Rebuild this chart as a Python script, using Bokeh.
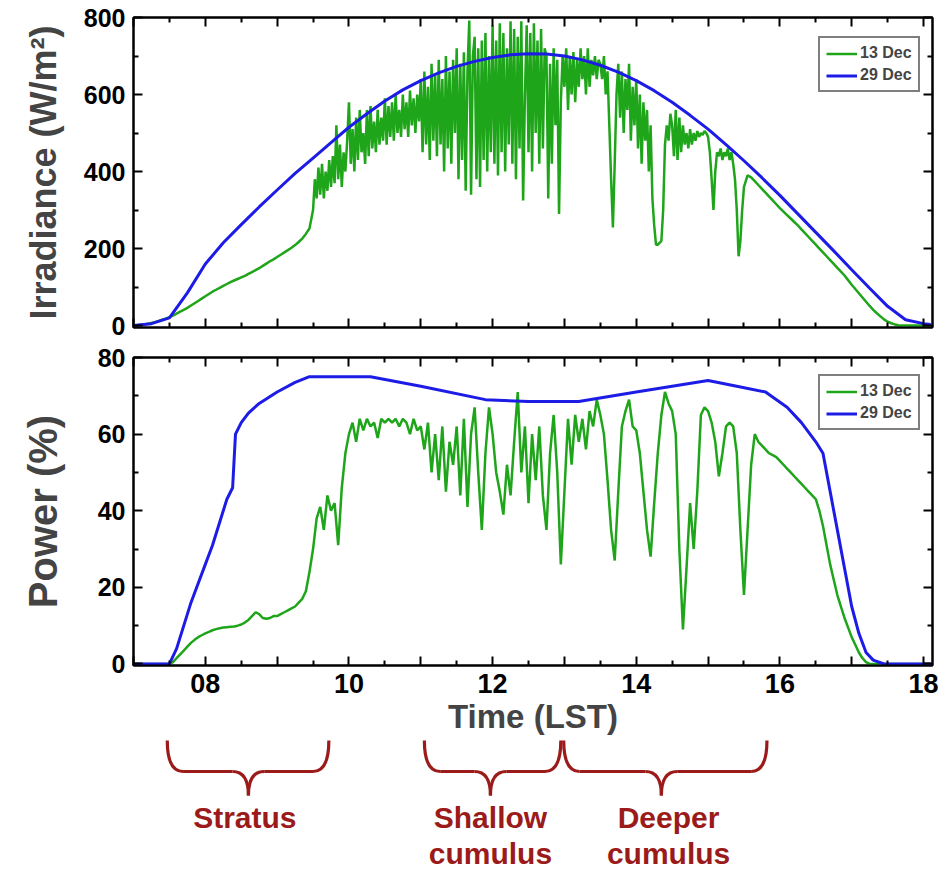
import numpy as np
from bokeh.plotting import figure
from bokeh.models import Range1d, LinearAxis, FixedTicker, Legend, LegendItem
from bokeh.layouts import column
from bokeh.embed import file_html
from bokeh.resources import INLINE
from bokeh.core.properties import value

# ---------------- data ----------------
# 13 Dec irradiance: 0.05 h steps before 09:30 and after 15:30, 0.025 h steps in between
t_irr_13dec = np.round(np.concatenate([7.0 + 0.05 * np.arange(50),
                                       9.5 + 0.025 * np.arange(240),
                                       15.5 + 0.05 * np.arange(53)]), 3)
irr_13dec = [
    0, 1, 2, 3, 5, 7, 9, 12, 15, 18,                              # 7.0
    22, 26, 31, 36, 41, 46, 52, 58, 64, 70,                       # 7.5
    76, 82, 88, 93, 98, 103, 108, 113, 117, 121,                  # 8.0
    125, 129, 134, 139, 144, 149, 155, 161, 167, 172,             # 8.5
    178, 184, 190, 196, 202, 209, 217, 226, 238, 252,             # 9.0
    # 0.025 h steps
    300, 380, 330, 410, 340, 420, 330, 400, 350, 430,             # 9.50
    360, 440, 370, 520, 380, 470, 360, 450, 400, 480,             # 9.75
    580, 420, 510, 400, 540, 430, 560, 450, 500, 420,             # 10.00
    560, 440, 570, 460, 530, 450, 560, 470, 540, 480,             # 10.25
    590, 470, 570, 490, 580, 480, 600, 500, 560, 490,             # 10.50
    600, 510, 580, 490, 610, 520, 590, 500, 600, 530,             # 10.75
    640, 450, 660, 470, 620, 430, 680, 480, 650, 440,             # 11.00
    690, 470, 640, 400, 700, 460, 660, 420, 690, 500,             # 11.25
    720, 380, 680, 430, 710, 350, 660, 792, 340, 700,             # 11.50
    750, 380, 720, 360, 740, 430, 760, 400, 700, 450,             # 11.75
    780, 420, 740, 390, 785, 450, 760, 400, 720, 470,             # 12.00
    790, 420, 770, 380, 750, 460, 790, 325, 600, 780,             # 12.25
    450, 760, 400, 785, 500, 740, 420, 770, 460, 720,             # 12.50
    700, 330, 680, 420, 720, 520, 690, 290, 580, 700,             # 12.75
    620, 720, 560, 700, 600, 710, 580, 690, 620, 720,             # 13.00
    640, 700, 600, 720, 620, 690, 650, 700, 640, 690,             # 13.25
    680, 640, 700, 600, 660, 520, 380, 255, 420, 600,             # 13.50
    680, 540, 660, 500, 640, 560, 680, 480, 620, 520,             # 13.75
    640, 460, 600, 420, 580, 480, 560, 400, 520, 330,             # 14.00
    260, 210, 210, 215, 220, 300, 470, 520, 480, 550,             # 14.25
    520, 440, 560, 430, 540, 450, 520, 470, 500, 460,             # 14.50
    510, 470, 500, 480, 505, 490, 500, 495, 505, 500,             # 14.75
    490, 450, 380, 300, 400, 450, 440, 460, 430, 450,             # 15.00
    440, 460, 430, 450, 420, 380, 300, 180, 220, 300,             # 15.25
    # 0.05 h steps
    360, 390, 385, 375, 365, 355, 345, 335, 325, 315,             # 15.5
    305, 296, 287, 278, 269, 260, 250, 240, 230, 220,             # 16.0
    210, 200, 190, 180, 170, 160, 150, 140, 130, 118,             # 16.5
    106, 95, 84, 73, 62, 51, 41, 32, 24, 16,                      # 17.0
    10, 6, 3, 1, 0, 0, 0, 0, 0, 0,                                # 17.5
    0, 0, 0,                                                      # 18.0
]

# 13 Dec power: every 0.05 h from 07:00 to 18:06 LST
t_pow_13dec = np.round(7.0 + 0.05 * np.arange(223), 2)
pow_13dec = [
    0, 0, 0, 0, 0, 0, 0, 0, 0, 0,                                 # 7.0
    0, 0.5, 1.5, 2.5, 3.5, 4.5, 5.5, 6.3, 7, 7.5,                 # 7.5
    8, 8.4, 8.8, 9.1, 9.3, 9.5, 9.6, 9.7, 9.8, 10,                # 8.0
    10.3, 10.8, 11.5, 12.5, 13.5, 13, 12, 11.8, 12, 12.5,         # 8.5
    12.5, 13, 13.5, 14, 14.5, 15, 16, 17, 19, 24,                 # 9.0
    30, 38, 41, 35, 44, 40, 42, 31, 46, 55,                       # 9.5
    60, 63, 58, 64, 61, 64, 62, 63, 59, 64,                       # 10.0
    63, 64, 63, 64, 62, 64, 63, 60, 64, 61,                       # 10.5
    62, 56, 63, 50, 60, 48, 62, 45, 58, 52,                       # 11.0
    62, 44, 64, 41, 60, 67, 50, 35, 55, 67,                       # 11.5
    60, 50, 45, 39, 52, 44, 58, 71, 50, 62,                       # 12.0
    42, 60, 48, 62, 44, 35, 55, 65, 50, 26,                       # 12.5
    45, 64, 52, 65, 58, 64, 56, 66, 62, 69,                       # 13.0
    65, 60, 48, 35, 27, 45, 62, 66, 69, 62,                       # 13.5
    61, 55, 45, 35, 28, 42, 55, 65, 71, 68,                       # 14.0
    66, 60, 30, 9, 25, 42, 30, 45, 65, 67,                        # 14.5
    66, 63, 58, 49, 55, 62, 63, 62, 55, 35,                       # 15.0
    18, 35, 52, 60, 58, 57, 56, 55, 54.5, 54,                     # 15.5
    53, 52, 51, 50, 49, 48, 47, 46, 45, 44,                       # 16.0
    43, 40, 36, 31, 26, 22, 18, 15, 12, 9.5,                      # 16.5
    7, 5, 3, 1.5, 0.5, 0, 0, 0, 0, 0,                             # 17.0
    0, 0, 0, 0, 0, 0, 0, 0, 0, 0,                                 # 17.5
    0, 0, 0,                                                      # 18.0
]

# 29 Dec (clear day)
t_irr_29dec = [7.0, 7.25, 7.5, 7.75, 8.0, 8.25, 8.5, 8.75, 9.0, 9.25, 9.5, 9.75,
               10.0, 10.25, 10.5, 10.75, 11.0, 11.25, 11.5, 11.75, 12.0, 12.25,
               12.5, 12.75, 13.0, 13.25, 13.5, 13.75, 14.0, 14.25, 14.5, 14.75,
               15.0, 15.25, 15.5, 15.75, 16.0, 16.25, 16.5, 16.75, 17.0, 17.25,
               17.5, 17.75, 18.0, 18.1]
irr_29dec = [0, 5, 20, 85, 160, 215, 262, 308, 352, 395, 435, 475,
             515, 550, 583, 612, 636, 656, 673, 686, 696, 703,
             706, 705, 700, 690, 676, 658, 636, 610, 580, 546,
             510, 470, 428, 384, 338, 290, 242, 194, 145, 97,
             50, 15, 5, 3]

t_pow_29dec = [7.0, 7.5, 7.6, 7.7, 7.8, 7.9, 8.0, 8.1, 8.2, 8.3, 8.38, 8.42, 8.5,
               8.6, 8.75, 9.0, 9.25, 9.45, 10.3, 11.0, 11.9, 12.5, 13.2, 14.0,
               14.5, 15.0, 15.4, 15.8, 16.1, 16.3, 16.5, 16.6, 16.7, 16.8, 16.9,
               17.0, 17.1, 17.2, 17.3, 17.45, 18.1]
pow_29dec = [0, 0, 4, 10, 16, 21, 26, 31, 37, 43, 46, 60, 63,
             65.5, 68, 71, 73.5, 75, 75, 72.5, 69, 68.5, 68.5, 71,
             72.5, 74, 72.5, 71, 67, 63, 58, 55, 45, 35, 25,
             15, 8, 3, 1, 0, 0]

series_labels = ["13 Dec", "29 Dec"]

x_hours = list(range(7, 19))
x_labelled = {8: "08", 10: "10", 12: "12", 14: "14", 16: "16", 18: "18"}
x_half = [h + 0.5 for h in range(7, 18)]
irr_ticks = [0, 200, 400, 600, 800]
irr_minor = [100, 300, 500, 700]
pow_ticks = [0, 20, 40, 60, 80]
pow_minor = [10, 30, 50, 70]

regime_line1 = ["Stratus", "Shallow", "Deeper"]
regime_line1_x = [8.55, 11.97, 14.45]
regime_line2 = ["cumulus", "cumulus"]
regime_line2_x = [11.97, 14.45]
regime_start = [7.47, 11.05, 12.99]
regime_end = [9.72, 12.95, 15.82]
regime_tip = [8.6, 11.97, 14.35]

# ---------------- style ----------------
FONT = "Liberation Sans"
GREEN = "#1fa51a"
BLUE = "#1c1ce6"
BRACE = "#9b1b1b"
W = 943
BL, BR = 133, 11
MAJ, MIN = 9, 5

x_range = Range1d(7.0, 18.125)


def base_axis(ax, line=True):
    ax.axis_line_width = 2
    ax.axis_line_color = "black" if line else None
    ax.major_tick_in = MAJ
    ax.major_tick_out = 0
    ax.minor_tick_out = 0
    ax.major_tick_line_width = 2
    ax.minor_tick_line_width = 2
    ax.major_tick_line_color = "black"
    ax.minor_tick_line_color = "black"
    return ax


def tick_only_axis(positions, length, line=True):
    """An axis that draws only inward ticks (no labels)."""
    ax = LinearAxis(ticker=FixedTicker(ticks=[], minor_ticks=positions))
    base_axis(ax, line)
    ax.minor_tick_in = length
    ax.major_label_standoff = 0
    ax.axis_label_standoff = 0
    return ax


def labelled_axis(ticks, minor, size, overrides=None):
    ax = LinearAxis(ticker=FixedTicker(ticks=ticks, minor_ticks=minor))
    base_axis(ax)
    ax.minor_tick_in = MIN
    ax.major_label_text_font = FONT
    ax.major_label_text_font_style = "bold"
    ax.major_label_text_font_size = size
    ax.major_label_text_color = "black"
    ax.major_label_standoff = 8
    if overrides:
        ax.major_label_overrides = overrides
    return ax


def make_panel(height, y_range, btop, bbottom, yticks, yminor, ylabel, ylab_size,
               ylab_standoff, show_x_labels):
    p = figure(width=W, height=height, x_range=x_range, y_range=y_range,
               output_backend="svg", toolbar_location=None,
               x_axis_location=None, y_axis_location=None,
               min_border_left=BL, min_border_right=BR,
               min_border_top=btop, min_border_bottom=bbottom)
    p.grid.visible = False
    p.outline_line_color = "black"
    p.outline_line_width = 2
    p.background_fill_color = "white"
    p.border_fill_color = "white"

    yax = labelled_axis(yticks, yminor, "25px")
    yax.axis_label = ylabel
    yax.axis_label_text_font = FONT
    yax.axis_label_text_font_style = "bold"
    yax.axis_label_text_font_size = ylab_size
    yax.axis_label_standoff = ylab_standoff
    p.add_layout(yax, "left")
    p.add_layout(tick_only_axis(yticks, MAJ), "right")
    p.add_layout(tick_only_axis(yminor, MIN, line=False), "right")
    p.add_layout(tick_only_axis(x_hours, MAJ), "above")
    p.add_layout(tick_only_axis(x_half, MIN, line=False), "above")
    xax = None
    if show_x_labels:
        odd = [h for h in x_hours if h not in x_labelled]
        p.add_layout(tick_only_axis(odd, MAJ, line=False), "below")
        xax = labelled_axis(sorted(x_labelled), x_half, "27px", overrides=x_labelled)
        p.add_layout(xax, "below")
    else:
        p.add_layout(tick_only_axis(x_hours, MAJ), "below")
        p.add_layout(tick_only_axis(x_half, MIN, line=False), "below")
    return p, xax


def add_legend(p, g, b):
    leg = Legend(items=[LegendItem(label=series_labels[0], renderers=[g]),
                        LegendItem(label=series_labels[1], renderers=[b])],
                 location=(685, 235), border_line_color="black", border_line_width=2,
                 label_text_font=FONT, label_text_font_style="bold",
                 label_text_font_size="16px", glyph_width=31, glyph_height=17,
                 label_height=17, spacing=4, padding=6, margin=0, label_standoff=3,
                 background_fill_color="white", background_fill_alpha=1)
    p.add_layout(leg)


# top panel: irradiance
p1, _ = make_panel(340, Range1d(-5, 800), 17, 13, irr_ticks, irr_minor,
                   "Irradiance (W/m²)", "36px", 17, False)
g1 = p1.line(t_irr_13dec, irr_13dec, line_color=GREEN, line_width=2.5)
b1 = p1.line(t_irr_29dec, irr_29dec, line_color=BLUE, line_width=3)
add_legend(p1, g1, b1)

# bottom panel: power
p2, xax2 = make_panel(397, Range1d(-0.4, 80), 17, 70, pow_ticks, pow_minor,
                      "Power (%)", "40px", 30, True)
xax2.axis_label = "Time (LST)"
xax2.axis_label_text_font = FONT
xax2.axis_label_text_font_style = "bold"
xax2.axis_label_text_font_size = "33px"
xax2.axis_label_standoff = 2
g2 = p2.line(t_pow_13dec, pow_13dec, line_color=GREEN, line_width=2.5)
b2 = p2.line(t_pow_29dec, pow_29dec, line_color=BLUE, line_width=3)
add_legend(p2, g2, b2)

# annotation strip: cloud regime braces
H3 = 137
p3 = figure(width=W, height=H3, x_range=x_range, y_range=Range1d(H3, 0),
            output_backend="svg", toolbar_location=None,
            x_axis_location=None, y_axis_location=None,
            min_border_left=BL, min_border_right=BR, min_border_top=0, min_border_bottom=0)
p3.grid.visible = False
p3.outline_line_color = None
p3.background_fill_color = "white"
p3.border_fill_color = "white"

r = 0.22
y_top, y_mid, y_tip = 3, 34, 58
xs = np.array(regime_start)
xe = np.array(regime_end)
xm = np.array(regime_tip)
n = len(regime_start)
lw = 3.2
p3.quadratic(x0=xs, y0=[y_top] * n, x1=xs + r, y1=[y_mid] * n, cx=xs, cy=[y_mid] * n,
             line_color=BRACE, line_width=lw)
p3.quadratic(x0=xe, y0=[y_top] * n, x1=xe - r, y1=[y_mid] * n, cx=xe, cy=[y_mid] * n,
             line_color=BRACE, line_width=lw)
p3.segment(x0=xs + r, y0=[y_mid] * n, x1=xm - r, y1=[y_mid] * n, line_color=BRACE, line_width=lw)
p3.segment(x0=xm + r, y0=[y_mid] * n, x1=xe - r, y1=[y_mid] * n, line_color=BRACE, line_width=lw)
p3.quadratic(x0=xm - r, y0=[y_mid] * n, x1=xm, y1=[y_tip] * n, cx=xm, cy=[y_mid] * n,
             line_color=BRACE, line_width=lw)
p3.quadratic(x0=xm + r, y0=[y_mid] * n, x1=xm, y1=[y_tip] * n, cx=xm, cy=[y_mid] * n,
             line_color=BRACE, line_width=lw)

txt = dict(text_align="center", text_baseline="middle", text_font=value(FONT),
           text_font_style="bold", text_font_size="30px", text_color=BRACE)
p3.text(x=regime_line1_x, y=[80] * len(regime_line1), text=regime_line1, **txt)
p3.text(x=regime_line2_x, y=[116] * len(regime_line2), text=regime_line2, **txt)

layout = column(p1, p2, p3)
open("out.html", "w").write(file_html(layout, INLINE))
